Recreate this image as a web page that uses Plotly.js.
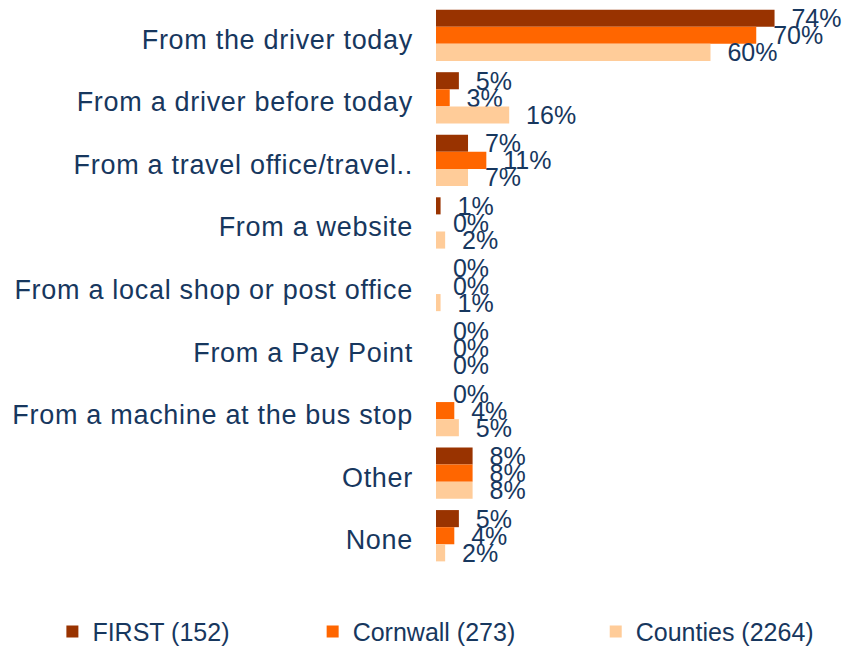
<!DOCTYPE html>
<html>
<head>
<meta charset="utf-8">
<script src="https://cdn.plot.ly/plotly-3.0.1.min.js"></script>
<style>
    html, body { margin: 0; padding: 0; background: #ffffff; }
    #myPlot { width: 845px; height: 648px; }
    /* the source labels are drawn slightly spaced out */
    #myPlot .ytick text { letter-spacing: 0.7px; }
</style>
</head>
<body>
<div id="myPlot"></div>
<script>
// categories top to bottom
const categories = [
    'From the driver today',
    'From a driver before today',
    'From a travel office/travel..',
    'From a website',
    'From a local shop or post office',
    'From a Pay Point',
    'From a machine at the bus stop',
    'Other',
    'None'
];

const seriesNames = ['FIRST (152)', 'Cornwall (273)', 'Counties (2264)'];

// percentages
const firstValues = [74, 5, 7, 1, 0, 0, 0, 8, 5];
const cornwallValues = [70, 3, 11, 0, 0, 0, 4, 8, 4];
const countiesValues = [60, 16, 7, 2, 1, 0, 5, 8, 2];

const seriesColors = ['#993300', '#FF6600', '#FFCC99'];

document.addEventListener('DOMContentLoaded', function () {
    const textColor = '#17375E';
    const fontFamily = 'Liberation Sans, Arial, sans-serif';

    const allValues = [firstValues, cornwallValues, countiesValues];
    const legendIds = ['legend', 'legend2', 'legend3'];
    const legendX = [0.062, 0.37, 0.705];

    const traces = allValues.map((values, i) => ({
        type: 'bar',
        orientation: 'h',
        name: seriesNames[i],
        legend: legendIds[i],
        y: categories,
        x: values,
        marker: { color: seriesColors[i] },
        text: values.map(v => '\u00a0\u00a0' + v + '%'),
        textposition: 'outside',
        constraintext: 'none',
        cliponaxis: false,
        textfont: { family: fontFamily, size: 25, color: textColor },
        hoverinfo: 'none'
    }));

    const layout = {
        width: 845,
        height: 648,
        paper_bgcolor: '#ffffff',
        plot_bgcolor: '#ffffff',
        barmode: 'group',
        bargap: 0.18,
        bargroupgap: 0,
        margin: { l: 436, r: 43, t: 4, b: 81 },
        font: { family: fontFamily, color: textColor },
        xaxis: {
            range: [0, 80],
            visible: false,
            showgrid: false,
            zeroline: false
        },
        yaxis: {
            autorange: 'reversed',
            showgrid: false,
            showline: false,
            zeroline: false,
            ticks: '',
            ticklabelstandoff: 22,
            ticklabelshift: -4,
            tickfont: { family: fontFamily, size: 27, color: textColor }
        },
        showlegend: true
    };

    // one legend per series so each entry sits where the source puts it
    legendIds.forEach((id, i) => {
        layout[id] = {
            orientation: 'h',
            xref: 'container',
            yref: 'container',
            x: legendX[i],
            y: 0.025,
            xanchor: 'left',
            yanchor: 'middle',
            bgcolor: 'rgba(0,0,0,0)',
            font: { family: fontFamily, size: 25, color: textColor }
        };
    });

    Plotly.newPlot('myPlot', traces, layout, { staticPlot: true });
});
</script>
</body>
</html>
